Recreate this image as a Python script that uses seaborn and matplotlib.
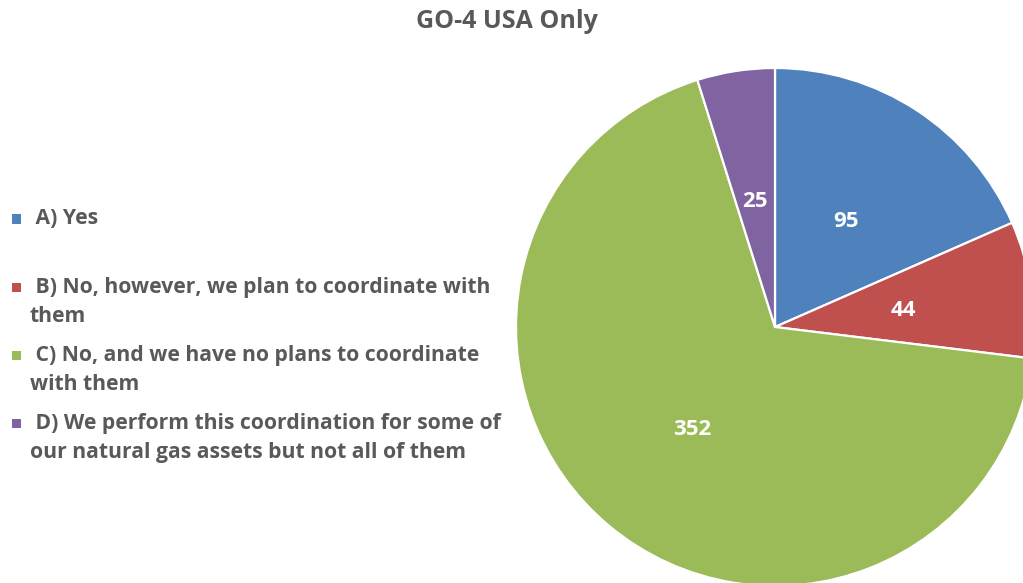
import matplotlib
matplotlib.use("Agg")
import matplotlib.pyplot as plt
from matplotlib.patches import Rectangle
import seaborn as sns

title = "GO-4 USA Only"
categories = [
    " A) Yes",
    " B) No, however, we plan to coordinate with\nthem",
    " C) No, and we have no plans to coordinate\nwith them",
    " D) We perform this coordination for some of\nour natural gas assets but not all of them",
]
counts = [95, 44, 352, 25]
colors = ["#4F81BD", "#C0504D", "#9BBB59", "#8064A2"]
text_color = "#595959"

sns.set_theme(style="white")
plt.rcParams["font.family"] = ["Open Sans", "DejaVu Sans"]

W, H = 1023, 583
fig = plt.figure(figsize=(W / 100, H / 100), dpi=100)
fig.patch.set_facecolor("white")

# pie axes: centre (775, 327) px, radius 259 px
cx, cy, r = 775, 327, 259
ax = fig.add_axes([(cx - r) / W, (H - cy - r) / H, 2 * r / W, 2 * r / H])
total = sum(counts)


def value_label(pct):
    return f"{round(pct * total / 100)}"


wedges, _, autotexts = ax.pie(
    counts,
    colors=colors,
    startangle=90,
    counterclock=False,
    autopct=value_label,
    pctdistance=0.5,
    radius=1.0,
    wedgeprops=dict(edgecolor="white", linewidth=1.6),
    textprops=dict(color="white", fontsize=16, fontweight="bold"),
)
for w in wedges:
    w.set_clip_on(False)
for t in autotexts:
    t.set_verticalalignment("center_baseline")
ax.set_xlim(-1, 1)
ax.set_ylim(-1, 1)
ax.set_aspect("equal")
ax.axis("off")

fig.text(507 / W, 1 - 22 / H, title, ha="center", va="center",
         fontsize=18, fontweight="bold", color=text_color)

# legend drawn on the left, one block per category
first_y, step, line_px = 219, 68, 29.5
for i, (label, col) in enumerate(zip(categories, colors)):
    y0 = first_y + step * i
    fig.add_artist(Rectangle(((16 - 4.5) / W, 1 - (y0 + 4.5) / H), 9 / W, 9 / H,
                             transform=fig.transFigure, facecolor=col,
                             edgecolor="none"))
    for j, line in enumerate(label.split("\n")):
        fig.text(30 / W, 1 - (y0 + j * line_px) / H, line, ha="left",
                 va="center", fontsize=15.2, fontweight="bold", color=text_color)

fig.savefig("out.png", dpi=100, facecolor="white")
